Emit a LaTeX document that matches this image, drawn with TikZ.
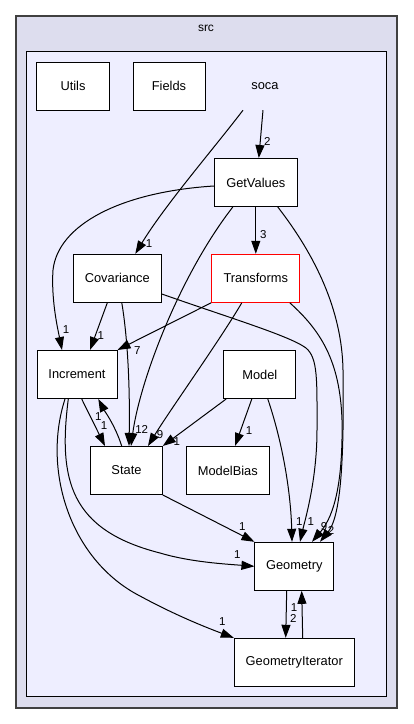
\documentclass[tikz,border=0pt]{standalone}
\usepackage{fontspec}
\setmainfont{Liberation Sans}
\usetikzlibrary{arrows.meta}
\definecolor{outerfill}{HTML}{DDDDEE}
\definecolor{innerfill}{HTML}{EEEEFF}
\definecolor{outerline}{HTML}{404040}
\begin{document}
\begin{tikzpicture}[x=1pt,y=-1pt,
  box/.style={draw=black, line width=1pt, fill=white, rectangle, minimum height=48pt, inner sep=0pt, font=\fontsize{12.85}{15}\selectfont},
  dep/.style={line width=1pt, -{Triangle[length=13pt,width=9pt]}},
  lbl/.style={font=\fontsize{11.5}{13}\selectfont, inner sep=0pt},
]
\useasboundingbox (0,0) rectangle (413,724);
\fill[white] (0,0) rectangle (413,724);
% clusters
\draw[fill=outerfill, draw=outerline, line width=1.3pt] (16,16) rectangle (397,708);
\node[lbl, font=\fontsize{12}{14}\selectfont] (srclabel) at (206,28) {src};
\draw[fill=innerfill, draw=black, line width=1.3pt] (26.7,51.7) rectangle (386.7,696.7);
\node[minimum width=50pt, minimum height=48pt, inner sep=0pt, font=\fontsize{12.85}{15}\selectfont] (soca) at (265,86) {soca};

% nodes
\node[box, minimum width=72.6pt] (Utils) at (73,86.3) {Utils};
\node[box, minimum width=72pt] (Fields) at (169,86.3) {Fields};
\node[box, minimum width=83pt] (GetValues) at (255.8,182.5) {GetValues};
\node[box, minimum width=88pt] (Covariance) at (117.3,278.3) {Covariance};
\node[box, minimum width=88.3pt, draw=red] (Transforms) at (255.8,278.3) {Transforms};
\node[box, minimum width=80pt] (Increment) at (77,374.5) {Increment};
\node[box, minimum width=72.3pt] (Model) at (259.8,374.5) {Model};
\node[box, minimum width=71.6pt] (State) at (126.5,470.5) {State};
\node[box, minimum width=83pt] (ModelBias) at (227.8,470.5) {ModelBias};
\node[box, minimum width=78.7pt] (Geometry) at (294.3,566.3) {Geometry};
\node[box, minimum width=120pt] (GeometryIterator) at (294.3,662.3) {GeometryIterator};

% edges
\draw[dep] ([xshift=-2pt]soca.south) -- ([xshift=3pt]GetValues.north);
\draw[dep] ([xshift=-22pt]soca.south) .. controls (215,147) and (165,205) .. ([xshift=18pt]Covariance.north);
\draw[dep] ([yshift=-3.5pt]GetValues.west) .. controls (120,192) and (58,225) .. (53,270) .. controls (51,300) and (58,330) .. ([xshift=-15pt]Increment.north);
\draw[dep] (GetValues.south) -- (Transforms.north);
\draw[dep] ([xshift=-23pt]GetValues.south) .. controls (180,275) and (140,380) .. ([xshift=4.5pt]State.north);
\draw[dep] ([xshift=22pt]GetValues.south) .. controls (315,255) and (342,310) .. (343,370) .. controls (344,450) and (342,515) .. ([xshift=25.7pt]Geometry.north);
\draw[dep] ([xshift=-10pt]Covariance.south) -- ([xshift=13pt]Increment.north);
\draw[dep] ([xshift=4.5pt]Covariance.south) .. controls (128,340) and (130,390) .. ([xshift=2.5pt]State.north);
\draw[dep] ([yshift=-15.7pt]Covariance.east) .. controls (230,318) and (290,336) .. (306,348) .. controls (318,358) and (317,380) .. (317,430) .. controls (317,480) and (305,520) .. ([xshift=5.7pt]Geometry.north);
\draw[dep] (Transforms.south west) -- (Increment.north east);
\draw[dep] ([xshift=-14pt]Transforms.south) .. controls (220,340) and (170,410) .. ([xshift=21.5pt]State.north);
\draw[dep] ([xshift=34pt]Transforms.south) .. controls (320,330) and (340,360) .. (342,420) .. controls (343,480) and (335,515) .. ([xshift=17.7pt]Geometry.north);
\draw[dep] ([xshift=3pt]Model.south west) -- (State.north east);
\draw[dep] ([xshift=-8pt]Model.south) -- ([xshift=7.2pt]ModelBias.north);
\draw[dep] ([xshift=8pt]Model.south) .. controls (285,450) and (291,500) .. ([xshift=-2.3pt]Geometry.north);
\draw[dep] ([xshift=4.7pt]Increment.south) -- ([xshift=-21.5pt]State.north);
\draw[dep] ([xshift=-4.8pt]State.north) .. controls (115,425) and (104,410) .. ([xshift=21.3pt]Increment.south);
\draw[dep] ([xshift=-8.7pt]Increment.south) .. controls (58,480) and (70,530) .. (160,553) .. controls (190,562) and (225,564) .. (Geometry.west);
\draw[dep] ([xshift=-12pt]Increment.south) .. controls (42,470) and (70,560) .. (140,596) .. controls (175,615) and (205,627) .. (GeometryIterator.north west);
\draw[dep] (State.south east) -- (Geometry.north west);
\draw[dep] ([xshift=-7.6pt]Geometry.south) -- ([xshift=-8.6pt]GeometryIterator.north);
\draw[dep] ([xshift=8.4pt]GeometryIterator.north) -- ([xshift=7.4pt]Geometry.south);

% edge labels
\node[lbl] (l01) at (267.3,141) {2};
\node[lbl] (l02) at (149,244) {1};
\node[lbl] (l03) at (66,330) {1};
\node[lbl] (l04) at (263.3,235) {3};
\node[lbl] (l05) at (100.7,336) {1};
\node[lbl] (l06) at (137.3,350.7) {7};
\node[lbl] (l07) at (141.7,429.3) {12};
\node[lbl] (l08) at (160,435) {9};
\node[lbl] (l09) at (176.7,441.7) {1};
\node[lbl] (l10) at (249,430.7) {1};
\node[lbl] (l11) at (98.3,416.7) {1};
\node[lbl] (l12) at (104,426) {1};
\node[lbl] (l13) at (299.3,521.7) {1};
\node[lbl] (l14) at (310.7,521.7) {1};
\node[lbl] (l15) at (324,526.7) {9};
\node[lbl] (l16) at (331,530) {2};
\node[lbl] (l17) at (242.3,526.7) {1};
\node[lbl] (l18) at (237.3,555) {1};
\node[lbl] (l19) at (222.3,621.7) {1};
\node[lbl] (l20) at (294,607.7) {1};
\node[lbl] (l21) at (293.3,618) {2};
\end{tikzpicture}
\end{document}
